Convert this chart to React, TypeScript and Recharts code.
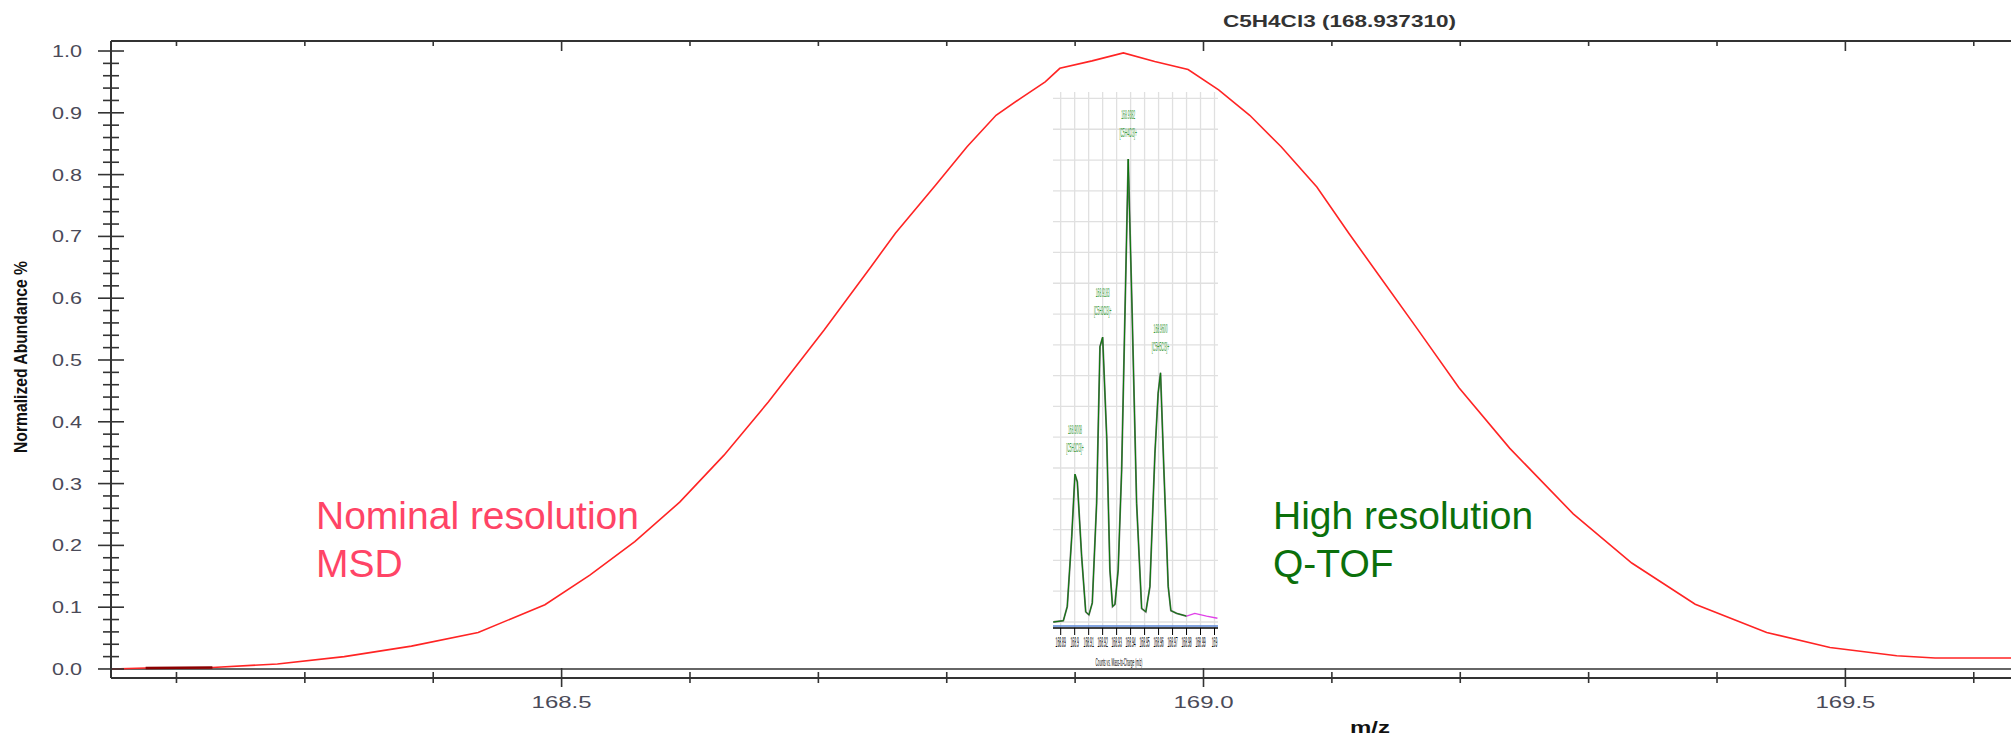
import React from 'react';
import { LineChart, Line, XAxis, YAxis, ReferenceLine, CartesianGrid, Label } from 'recharts';

const FONT = "Arial, 'Liberation Sans', Helvetica, sans-serif";

// nominal resolution (MSD) profile, normalised
const msdMz = [168.149, 168.176, 168.228, 168.2786, 168.3307, 168.383, 168.435, 168.487, 168.522, 168.557, 168.592, 168.6265, 168.661, 168.7045, 168.741, 168.76, 168.7914, 168.8158, 168.8384, 168.8575, 168.8767, 168.8881, 168.9132, 168.9376, 168.962, 168.988, 169.0118, 169.036, 169.0605, 169.0883, 169.1136, 169.1366, 169.166, 169.199, 169.2386, 169.288, 169.3336, 169.383, 169.4387, 169.488, 169.54, 169.5698, 169.629];
const msdAbundance = [0, 0.0015, 0.0025, 0.008, 0.02, 0.037, 0.059, 0.104, 0.152, 0.206, 0.27, 0.346, 0.432, 0.5485, 0.651, 0.705, 0.783, 0.845, 0.896, 0.9235, 0.95, 0.972, 0.984, 0.997, 0.983, 0.97, 0.937, 0.896, 0.845, 0.78, 0.704, 0.637, 0.552, 0.455, 0.357, 0.251, 0.1715, 0.1047, 0.059, 0.0348, 0.0214, 0.0177, 0.0177];
// darker overlapping trace near the baseline
const msdOverlapMz = [168.176, 168.228];
const msdOverlapAbundance = [0.0015, 0.0025];

const xMajorTicks = [168.5, 169.0, 169.5];
const xMinorTicks = [168.2, 168.3, 168.4, 168.6, 168.7, 168.8, 168.9, 169.1, 169.2, 169.3, 169.4, 169.6];
const yMajorTicks = [0, 0.1, 0.2, 0.3, 0.4, 0.5, 0.6, 0.7, 0.8, 0.9, 1.0];
const yTickLabels = ['0.0', '0.1', '0.2', '0.3', '0.4', '0.5', '0.6', '0.7', '0.8', '0.9', '1.0'];

// high resolution (Q-TOF) inset, counts in grid units
const qtofMz = [168.8847, 168.8919, 168.8947, 168.8979, 168.9002, 168.9019, 168.905, 168.9079, 168.9102, 168.9126, 168.9157, 168.9181, 168.92, 168.9229, 168.9252, 168.9271, 168.9288, 168.9311, 168.9336, 168.9383, 168.9411, 168.9443, 168.9479, 168.9509, 168.9538, 168.9574, 168.9597, 168.9614, 168.9638, 168.9669, 168.9688, 168.9729, 168.98];
const qtofCounts = [0, 0.04, 0.5, 2.77, 4.8, 4.55, 2.12, 0.33, 0.23, 0.62, 3.86, 8.94, 9.25, 6.02, 1.69, 0.5, 0.57, 1.69, 4.94, 15.03, 10.03, 3.85, 0.44, 0.33, 1.15, 5.48, 7.43, 8.09, 4.94, 1.15, 0.37, 0.28, 0.19];
const qtofTailMz = [168.98, 168.9859, 168.9943, 169.0021];
const qtofTailCounts = [0.19, 0.28, 0.19, 0.12];

const peakMz = [168.9002, 168.92, 168.9383, 168.9614];
const peakCounts = [4.8, 9.25, 15.03, 8.09];
const peakMass = ['168.9008', '168.9183', '168.9382', '168.9600'];
const peakIon = ['[C5H2Cl3]+', '[C5H3Cl3]+', '[C5H4Cl3]+', '[C5H5Cl3]+'];

const insetTicks = [168.89, 168.9, 168.91, 168.92, 168.93, 168.94, 168.95, 168.96, 168.97, 168.98, 168.99, 169.0];
const insetTickLabels = ['168.89', '168.9', '168.91', '168.92', '168.93', '168.94', '168.95', '168.96', '168.97', '168.98', '168.99', '169'];
const insetGridCounts = [0, 1, 2, 3, 4, 5, 6, 7, 8, 9, 10, 11, 12, 13, 14, 15, 16, 17];

const msdData = msdMz.map((mz, i) => ({ mz, v: msdAbundance[i] }));
const overlapData = msdOverlapMz.map((mz, i) => ({ mz, v: msdOverlapAbundance[i] }));
const qtofData = qtofMz.map((mz, i) => ({ mz, c: qtofCounts[i] }));
const tailData = qtofTailMz.map((mz, i) => ({ mz, c: qtofTailCounts[i] }));
const peakData = peakMz.map((mz, i) => ({ mz, c: peakCounts[i], mass: peakMass[i], ion: peakIon[i] }));

const xTicks = [...xMajorTicks, ...xMinorTicks].sort((a, b) => a - b);
const yTicks = yMajorTicks.flatMap((t, i) =>
  i === 0 ? [t] : [1, 2, 3, 4, 5].map((k) => Math.round((yMajorTicks[i - 1] + 0.02 * k) * 100) / 100)
);

const X_DOMAIN = [168.149, 169.629];
const Y_DOMAIN = [-0.0146, 1.0162];
const INSET_X = [168.8845, 169.0025];
const INSET_Y = [-0.195, 17.21];

const AXIS = '#333';
const TICK_TEXT = '#4a4a58';

// the inset is a squeezed screenshot, so its texts are narrowed horizontally
const Squeezed = ({ x, y, sx, size, fill, children }: any) => (
  <text transform={`translate(${x} ${y}) scale(${sx} 1)`} x={0} y={0} textAnchor="middle" fontSize={size}
    fill={fill} fontFamily={FONT}>
    {children}
  </text>
);

const BottomTick = (props: any) => {
  const { x, y, payload } = props;
  const major = xMajorTicks.includes(payload.value);
  return (
    <g>
      <line x1={x} x2={x} y1={y - (major ? 10 : 6)} y2={y + (major ? 9 : 5)} stroke={AXIS} strokeWidth={1.6} />
      {major && (
        <text x={x} y={y + 30} textAnchor="middle" fontSize={17} fill={TICK_TEXT} fontFamily={FONT}
          textLength={60} lengthAdjust="spacingAndGlyphs">
          {payload.value.toFixed(1)}
        </text>
      )}
    </g>
  );
};

const TopTick = (props: any) => {
  const { x, y, payload } = props;
  const major = xMajorTicks.includes(payload.value);
  return <line x1={x} x2={x} y1={y} y2={y + (major ? 10 : 5)} stroke={AXIS} strokeWidth={1.6} />;
};

const LeftTick = (props: any) => {
  const { x, y, payload } = props;
  const v = payload.value;
  const major = Math.abs(v * 10 - Math.round(v * 10)) < 1e-6;
  return (
    <g>
      <line x1={x - (major ? 13 : 8)} x2={x + (major ? 13 : 8)} y1={y} y2={y} stroke={AXIS} strokeWidth={1.6} />
      {major && (
        <text x={x - 29} y={y + 6} textAnchor="end" fontSize={17} fill={TICK_TEXT} fontFamily={FONT}
          textLength={30} lengthAdjust="spacingAndGlyphs">
          {yTickLabels[Math.round(v * 10)]}
        </text>
      )}
    </g>
  );
};

const InsetTick = (props: any) => {
  const { x, y, payload } = props;
  const idx = insetTicks.indexOf(payload.value);
  const label = insetTickLabels[idx] ?? '';
  return (
    <g>
      <line x1={x} x2={x} y1={y} y2={y + 7} stroke="#000" strokeWidth={1} />
      <Squeezed x={x} y={y + 19} sx={0.24} size={14} fill="#000">{label}</Squeezed>
    </g>
  );
};

const PeakLabel = (props: any) => {
  const { cx, cy, payload } = props;
  if (cx == null || cy == null) return <g />;
  return (
    <g>
      <Squeezed x={cx} y={cy - 40} sx={0.28} size={12} fill="#3a9a3a">{payload.mass}</Squeezed>
      <Squeezed x={cx} y={cy - 22} sx={0.28} size={12} fill="#3a9a3a">{payload.ion}</Squeezed>
    </g>
  );
};

export default function App() {
  return (
    <div style={{ position: 'absolute', left: 0, top: 0, width: 2011, height: 737, background: '#fff', overflow: 'hidden' }}>
      <div style={{ position: 'absolute', left: 0, top: 0 }}>
        <LineChart width={2011} height={737} margin={{ top: 31, right: 0, bottom: 0, left: 0 }}>
          <XAxis xAxisId="b" type="number" dataKey="mz" domain={X_DOMAIN} allowDataOverflow ticks={xTicks} interval={0}
            height={59} tickSize={0} tickMargin={0} tickLine={false} tick={(p: any) => <BottomTick {...p} />}
            axisLine={{ stroke: AXIS, strokeWidth: 2 }}>
            <Label content={() => (
              <text x={1370} y={733} textAnchor="middle" fontSize={17} fontWeight="bold" fill="#111" fontFamily={FONT}
                textLength={40} lengthAdjust="spacingAndGlyphs">m/z</text>
            )} />
          </XAxis>
          <XAxis xAxisId="t" orientation="top" type="number" dataKey="mz" domain={X_DOMAIN} allowDataOverflow ticks={xTicks}
            interval={0} height={10} tickSize={0} tickMargin={0} tickLine={false} tick={(p: any) => <TopTick {...p} />}
            axisLine={{ stroke: AXIS, strokeWidth: 2 }} />
          <YAxis type="number" domain={Y_DOMAIN} allowDataOverflow ticks={yTicks} interval={0} width={111}
            tickSize={0} tickMargin={0} tickLine={false} tick={(p: any) => <LeftTick {...p} />}
            axisLine={{ stroke: AXIS, strokeWidth: 2 }}>
            <Label content={() => (
              <text x={27} y={357} transform="rotate(-90 27 357)" textAnchor="middle" fontSize={19} fontWeight="bold"
                fill="#111" fontFamily={FONT} textLength={192} lengthAdjust="spacingAndGlyphs">Normalized Abundance %</text>
            )} />
          </YAxis>
          <ReferenceLine xAxisId="b" y={0} stroke={AXIS} strokeWidth={1.6} />
          <Line xAxisId="b" data={msdData} dataKey="v" type="linear" stroke="#ff2424" strokeWidth={1.6} dot={false} isAnimationActive={false} />
          <Line xAxisId="b" data={overlapData} dataKey="v" type="linear" stroke="#8b0000" strokeWidth={2.4} dot={false} isAnimationActive={false} />
        </LineChart>
      </div>

      <div style={{ position: 'absolute', left: 1048, top: 86, width: 174, height: 582 }}>
        <LineChart width={174} height={582} margin={{ top: 6, right: 4, bottom: 0, left: 5 }}>
          <CartesianGrid stroke="#e0e0e0" strokeWidth={1.3} horizontalValues={insetGridCounts} verticalValues={insetTicks} />
          <XAxis type="number" dataKey="mz" domain={INSET_X} allowDataOverflow ticks={insetTicks} interval={0} height={40}
            tickSize={0} tickMargin={0} tickLine={false} tick={(p: any) => <InsetTick {...p} />}
            axisLine={{ stroke: '#000', strokeWidth: 1.5 }}>
            <Label content={() => (
              <Squeezed x={71} y={580} sx={0.29} size={11} fill="#000">Counts vs. Mass-to-Charge (m/z)</Squeezed>
            )} />
          </XAxis>
          <YAxis hide type="number" domain={INSET_Y} allowDataOverflow ticks={insetGridCounts} />
          <ReferenceLine y={-0.13} stroke="#5a86d6" strokeWidth={1.5} />
          <Line data={qtofData} dataKey="c" type="linear" stroke="#707070" strokeWidth={1.8} dot={false} isAnimationActive={false} />
          <Line data={qtofData} dataKey="c" type="linear" stroke="#0a7a0a" strokeWidth={1} dot={false} isAnimationActive={false} />
          <Line data={tailData} dataKey="c" type="linear" stroke="#e040e8" strokeWidth={1.4} dot={false} isAnimationActive={false} />
          <Line data={peakData} dataKey="c" stroke="none" dot={(p: any) => <PeakLabel key={p.index} {...p} />} isAnimationActive={false} />
        </LineChart>
      </div>

      <svg width={2011} height={737} style={{ position: 'absolute', left: 0, top: 0, pointerEvents: 'none' }}>
        <text x={1339.5} y={27} textAnchor="middle" fontSize={17} fontWeight="bold" fill="#333" fontFamily={FONT}
          textLength={233} lengthAdjust="spacingAndGlyphs">C5H4Cl3 (168.937310)</text>
        <text x={316} y={529} fontSize={39} fill="#ff4466" fontFamily={FONT}>Nominal resolution</text>
        <text x={316} y={577} fontSize={39} fill="#ff4466" fontFamily={FONT}>MSD</text>
        <text x={1273} y={529} fontSize={39} fill="#0b700b" fontFamily={FONT}>High resolution</text>
        <text x={1273} y={577} fontSize={39} fill="#0b700b" fontFamily={FONT}>Q-TOF</text>
      </svg>
    </div>
  );
}
